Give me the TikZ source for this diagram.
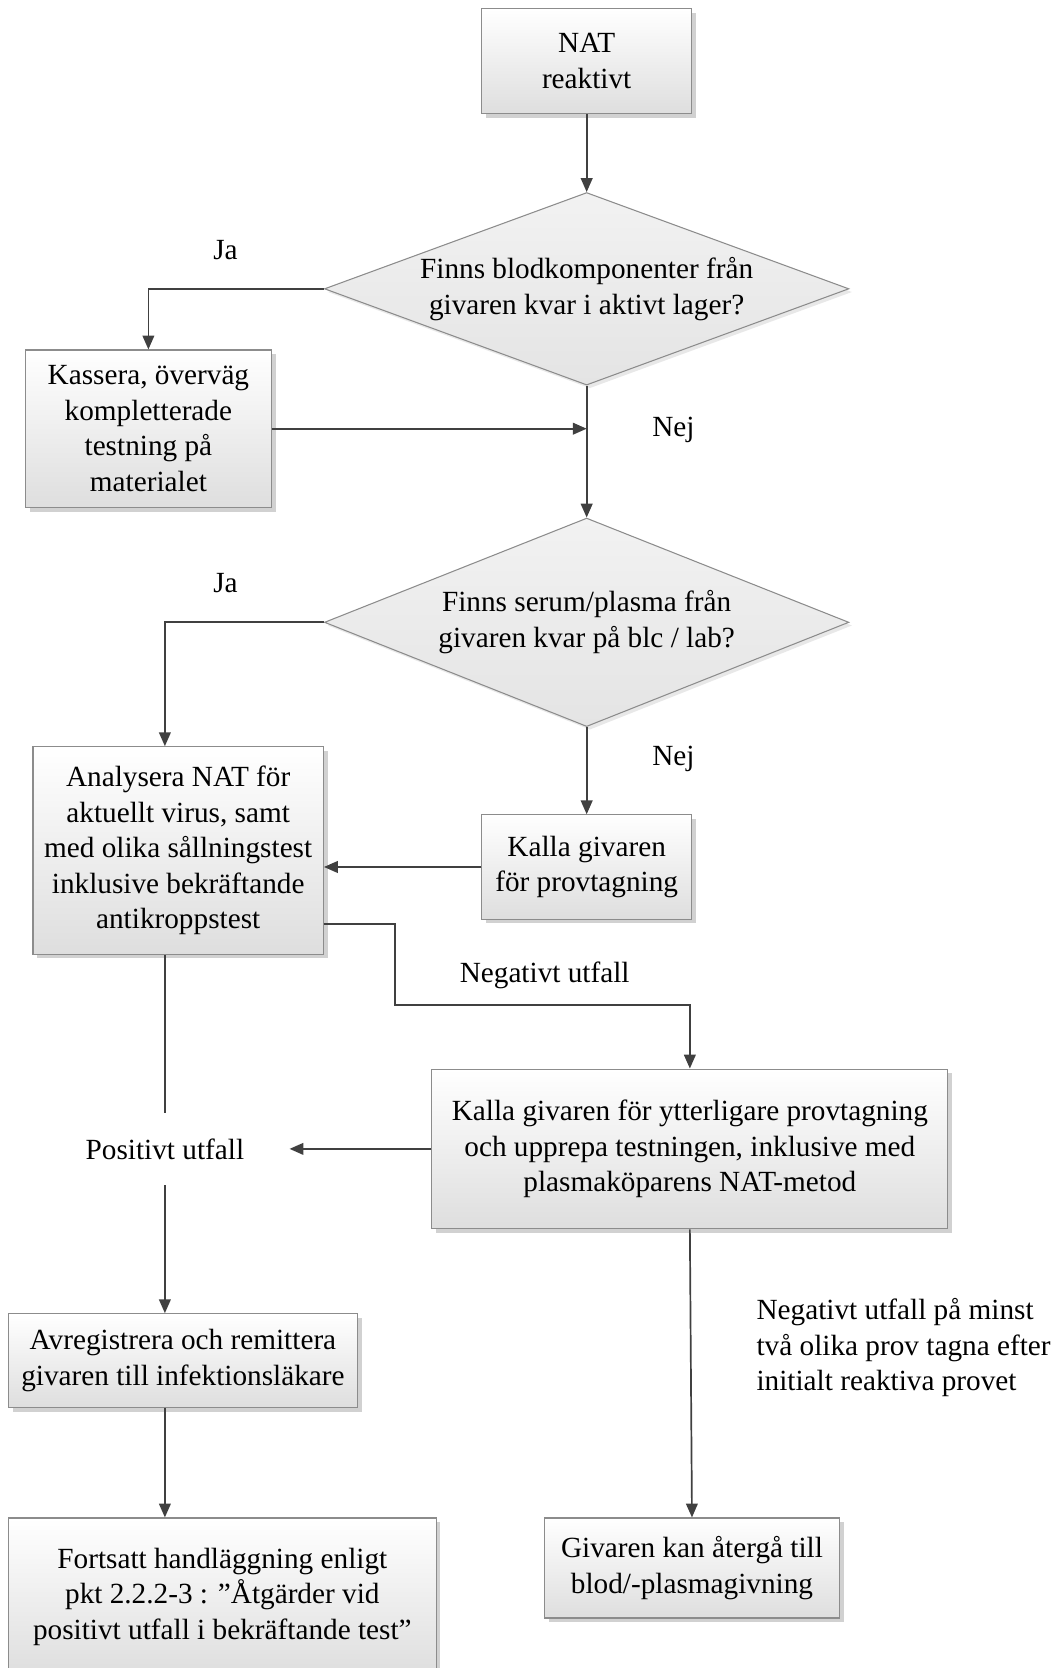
\documentclass[tikz,border=0pt]{standalone}
\usepackage{fontspec}
\setmainfont{Liberation Serif}
\usetikzlibrary{shapes.geometric,arrows.meta,shadows,calc}
\definecolor{lnc}{HTML}{404040}
\definecolor{bdc}{HTML}{8C8C8C}
\definecolor{boxbot}{HTML}{DEDEDE}
\definecolor{diatop}{HTML}{F2F2F2}
\definecolor{diabot}{HTML}{E4E4E4}
\begin{document}
\begin{tikzpicture}[x=1pt,y=-1pt,
  every node/.style={font=\fontsize{27.5}{33.5}\selectfont, align=center, inner sep=0pt},
  pbox/.style={rectangle, draw=bdc, line width=1.1pt, top color=white, bottom color=boxbot,
    drop shadow={shadow xshift=4pt, shadow yshift=-4pt, opacity=0.3, fill=black!60}},
  dec/.style={diamond, draw=bdc, line width=1pt, top color=diatop, bottom color=diabot, aspect=2.72,
    drop shadow={shadow xshift=3pt, shadow yshift=-3pt, opacity=0.15, fill=black!60}},
  lbl/.style={},
  conn/.style={draw=lnc, line width=1.6pt},
  arr/.style={conn, -{Triangle[length=13pt,width=11pt]}},
]
\useasboundingbox (0,0) rectangle (996,1568);

% nodes
\node[pbox, minimum width=197pt, minimum height=99pt] (nat) at (551.5,57.5) {NAT\\reaktivt};
\node[dec, minimum width=493pt, minimum height=181pt] (d1) at (551.5,271.5)
  {Finns blodkomponenter från\\givaren kvar i aktivt lager?};
\node[pbox, minimum width=231pt, minimum height=148pt] (kas) at (139.5,403)
  {Kassera, överväg\\kompletterade\\testning på\\materialet};
\node[dec, minimum width=493pt, minimum height=196pt] (d2) at (551.5,585)
  {Finns serum/plasma från\\givaren kvar på blc / lab?};
\node[pbox, minimum width=273pt, minimum height=195pt] (ana) at (167.5,799.5)
  {Analysera NAT för\\aktuellt virus, samt\\med olika sållningstest\\inklusive bekräftande\\antikroppstest};
\node[pbox, minimum width=197pt, minimum height=98pt] (kal) at (551.5,815)
  {Kalla givaren\\för provtagning};
\node[pbox, minimum width=485pt, minimum height=150pt] (kal2) at (648.5,1080)
  {Kalla givaren för ytterligare provtagning\\och upprepa testningen, inklusive med\\plasmaköparens NAT-metod};
\node[minimum width=234pt, minimum height=68pt] (pos) at (155,1080) {Positivt utfall};
\node[pbox, minimum width=328pt, minimum height=88pt] (avr) at (172,1279)
  {Avregistrera och remittera\\givaren till infektionsläkare};
\node[pbox, minimum width=402pt, minimum height=148pt] (fort) at (209,1501)
  {Fortsatt handläggning enligt\\pkt 2.2.2-3 : ”Åtgärder vid\\positivt utfall i bekräftande test”};
\node[pbox, minimum width=277pt, minimum height=94pt] (giv) at (650.5,1474)
  {Givaren kan återgå till\\blod/-plasmagivning};

% labels
\node[lbl] (ja1) at (212,235) {Ja};
\node[lbl] (nej1) at (633,404) {Nej};
\node[lbl] (ja2) at (212,548) {Ja};
\node[lbl] (nej2) at (633,713) {Nej};
\node[lbl] (neg1) at (512,917) {Negativt utfall};
\node[lbl, anchor=west, align=left] (neg2) at (711,1267)
  {Negativt utfall på minst\\två olika prov tagna efter\\initialt reaktiva provet};

% connectors
\coordinate (b1) at (371,945);
\draw[arr] (nat.south) -- (d1.north);
\draw[arr] (d1.west) -| (kas.north);
\draw[arr] (kas.east) -- (kas.east -| d1.south);
\draw[arr] (d1.south) -- (d2.north);
\draw[arr] (d2.west) -| (pos |- ana.north);
\draw[arr] (d2.south) -- (kal.north);
\draw[arr] (kal.west) -- (kal.west -| ana.east);
\draw[arr] ($(ana.south east)+(0,-29)$) -| (b1) -| (kal2.north);
\draw[arr] (kal2.west) -- (pos.east);
\draw[conn] (ana.south -| pos) -- (pos.north);
\draw[arr] (pos.south) -- (avr.north -| pos);
\draw[arr] (avr.south -| pos) -- (fort.north -| pos);
\draw[arr] (kal2.south) -- (giv.north);
\end{tikzpicture}
\end{document}
